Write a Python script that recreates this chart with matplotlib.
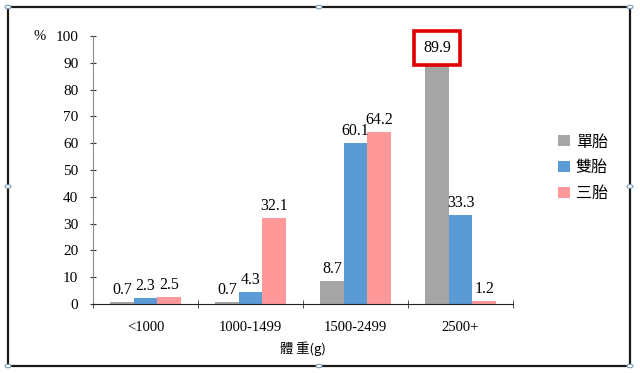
import numpy as np
import matplotlib
matplotlib.use('Agg')
import matplotlib.pyplot as plt
from matplotlib.patches import Rectangle, Circle

plt.rcParams['font.family'] = ['Liberation Serif', 'Noto Sans CJK TC', 'DejaVu Sans']

# data
categories = ['<1000', '1000-1499', '1500-2499', '2500+']
series_names = ['單胎', '雙胎', '三胎']
single = [0.7, 0.7, 8.7, 89.9]
twins = [2.3, 4.3, 60.1, 33.3]
triplets = [2.5, 32.1, 64.2, 1.2]
colors = ['#A5A5A5', '#5B9BD5', '#FF9999']

W, H = 640, 373
fig = plt.figure(figsize=(W / 100, H / 100), dpi=100)
ax = fig.add_axes([93 / W, 1 - 304 / H, 420 / W, 268 / H])

x = np.arange(len(categories))
w = 0.225
for k, (vals, name, col) in enumerate(zip([single, twins, triplets], series_names, colors)):
    ax.bar(x + (k - 1) * w, vals, w, color=col, label=name, zorder=2)
    for xi, v in zip(x + (k - 1) * w, vals):
        if k == 0 and v == max(single):
            # highlighted value with the red box
            ax.annotate(f'{v:.1f}', (xi, v), textcoords='offset points', xytext=(0, 11),
                        ha='center', va='center', fontsize=11.5,
                        bbox=dict(boxstyle='square,pad=0.58', fc='white', ec='#E00000', lw=2.6))
        else:
            ax.annotate(f'{v:.1f}', (xi, v), textcoords='offset points', xytext=(0, 3),
                        ha='center', va='bottom', fontsize=11.5)

ax.set_xlim(-0.5, 3.5)
ax.set_ylim(0, 100)
ax.set_yticks(range(0, 101, 10))
ax.set_xticks(x)
ax.set_xticklabels(categories)
ax.set_xticks(np.arange(-0.5, 4, 1), minor=True)
ax.tick_params(axis='x', which='major', length=0, pad=12, labelsize=10.5)
ax.tick_params(axis='x', which='minor', length=6, direction='inout', color='#333333')
ax.tick_params(axis='y', length=5, direction='inout', color='#333333', labelsize=11, pad=8)
for s in ['top', 'right']:
    ax.spines[s].set_visible(False)
ax.spines['left'].set_color('#8C8C8C')
ax.spines['bottom'].set_color('#222222')

fig.text(40 / W, 1 - 37 / H, '%', fontsize=10.5, ha='center', va='center')
fig.text(303 / W, 1 - 349 / H, '體 重(g)', fontsize=9.5, ha='center', va='center',
         family=['Noto Sans CJK TC', 'DejaVu Sans'])

ax.legend(frameon=False, loc='upper left', bbox_to_anchor=(544 / W, 1 - 119 / H),
          bbox_transform=fig.transFigure, handlelength=0.7, handleheight=0.7,
          handletextpad=0.4, labelspacing=0.55,
          prop={'family': ['Noto Sans CJK TC'], 'size': 11.5})

# selection frame around the chart, as in the screenshot
fx0, fx1, fy0, fy1 = 8, 630, 7, 366
fig.add_artist(Rectangle((fx0 / W, 1 - fy1 / H), (fx1 - fx0) / W, (fy1 - fy0) / H,
                         transform=fig.transFigure, fill=False, ec='#1A1A1A', lw=1.6))
handles_x = [fx0, (fx0 + fx1) / 2, fx1]
handles_y = [fy0, (fy0 + fy1) / 2, fy1]
for hx in handles_x:
    for hy in handles_y:
        if hx == handles_x[1] and hy == handles_y[1]:
            continue
        fig.add_artist(Circle((hx / W, 1 - hy / H), 3 / W, transform=fig.transFigure,
                              fc='white', ec='#7F9DB9', lw=0.8, zorder=5))

fig.savefig('out.png', dpi=100)
